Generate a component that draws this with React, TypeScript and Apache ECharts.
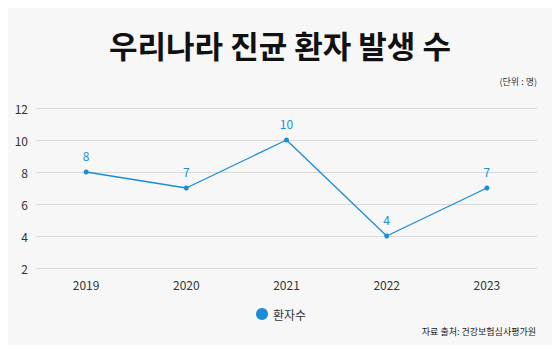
import React, { useEffect, useRef } from "react";
import * as echarts from "echarts";

const categories = ["2019", "2020", "2021", "2022", "2023"];
const patients = [8, 7, 10, 4, 7];
const seriesName = "환자수";
const titleText = "우리나라 진균 환자 발생 수";
const unitText = "(단위 : 명)";
const sourceText = "자료 출처: 건강보험심사평가원";

const FONT = "'Noto Sans CJK KR', 'Noto Sans', sans-serif";
const BLUE = "#1a8dd8";

export default function App() {
  const ref = useRef<HTMLDivElement>(null);
  useEffect(() => {
    const chart = echarts.init(ref.current!, null, { renderer: "svg" });
    chart.setOption({
      animation: false,
      backgroundColor: "#f7f7f7",
      textStyle: { fontFamily: FONT },
      title: [
        {
          text: titleText,
          left: "center",
          top: 24,
          textStyle: { fontFamily: FONT, fontSize: 31, fontWeight: "bold", color: "#111" },
        },
      ],
      graphic: [
        {
          type: "text",
          right: 23,
          top: 77,
          style: { text: unitText, fontFamily: FONT, fontSize: 9, fill: "#333" },
        },
        {
          type: "text",
          right: 24,
          top: 327,
          style: { text: sourceText, fontFamily: FONT, fontSize: 9, fill: "#222" },
        },
      ],
      legend: {
        top: 303,
        left: 251,
        icon: "circle",
        itemWidth: 12,
        itemHeight: 12,
        itemGap: 6,
        textStyle: { fontFamily: FONT, fontSize: 12, color: "#333" },
        data: [seriesName],
      },
      grid: { left: 36, right: 23, top: 108, bottom: 85 },
      xAxis: {
        type: "category",
        data: categories,
        boundaryGap: true,
        axisLine: { show: false },
        axisTick: { show: false },
        axisLabel: { fontFamily: FONT, fontSize: 12, color: "#333", margin: 10 },
      },
      yAxis: {
        type: "value",
        min: 2,
        max: 12,
        interval: 2,
        axisLine: { show: false },
        axisTick: { show: false },
        splitLine: { lineStyle: { color: "#d9d9d9", width: 1 } },
        axisLabel: { fontFamily: FONT, fontSize: 12, color: "#333", margin: 8 },
      },
      series: [
        {
          name: seriesName,
          type: "line",
          data: patients,
          color: BLUE,
          symbol: "circle",
          symbolSize: 5,
          lineStyle: { color: BLUE, width: 1.3 },
          itemStyle: { color: BLUE },
          label: {
            show: true,
            position: "top",
            distance: 8,
            fontFamily: FONT,
            fontSize: 12,
            color: BLUE,
          },
        },
      ],
    });
    return () => chart.dispose();
  }, []);
  return <div ref={ref} style={{ width: 560, height: 353, margin: -8 }} />;
}
